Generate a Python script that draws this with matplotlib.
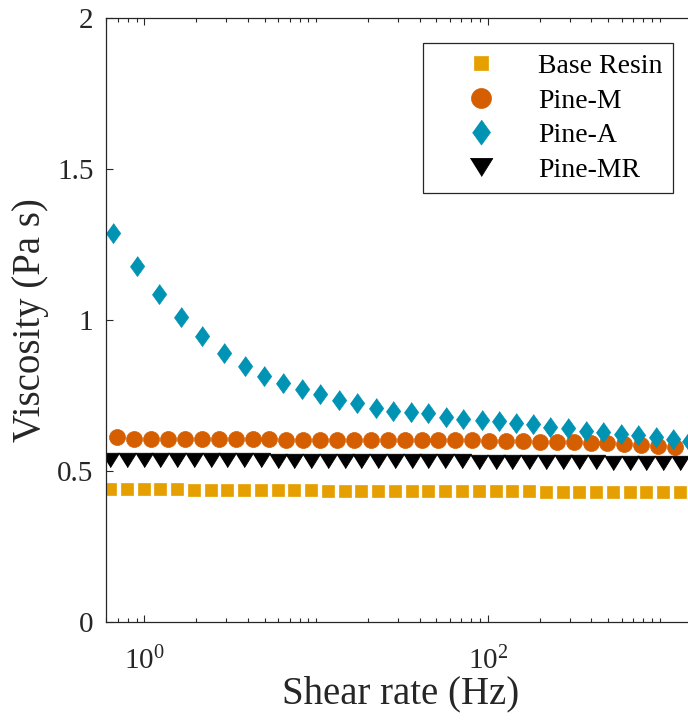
import numpy as np
import matplotlib
matplotlib.use('Agg')
import matplotlib.pyplot as plt
from matplotlib.ticker import FixedLocator, NullFormatter

plt.rcParams['font.family'] = ['Liberation Serif', 'DejaVu Serif']
plt.rcParams['mathtext.fontset'] = 'custom'
plt.rcParams['mathtext.rm'] = 'Liberation Serif'

# shear rate (Hz) and viscosity (Pa s)
rate_base = [0.630, 0.788, 0.987, 1.236, 1.547, 1.937, 2.425, 3.036, 3.801, 4.759,
             5.958, 7.459, 9.339, 11.69, 14.64, 18.33, 22.94, 28.73, 35.96, 45.03,
             56.37, 70.58, 88.37, 110.6, 138.5, 173.4, 217.1, 271.8, 340.3, 426.1,
             533.4, 667.9, 836.2, 1047, 1311]
visc_base = [0.441, 0.440, 0.440, 0.439, 0.439, 0.438, 0.438, 0.437, 0.437, 0.437,
             0.436, 0.436, 0.436, 0.435, 0.435, 0.435, 0.435, 0.434, 0.434, 0.434,
             0.434, 0.433, 0.433, 0.433, 0.433, 0.433, 0.432, 0.432, 0.432, 0.432,
             0.432, 0.431, 0.431, 0.431, 0.430]

rate_m = [0.695, 0.872, 1.093, 1.372, 1.720, 2.158, 2.707, 3.395, 4.258, 5.341,
          6.699, 8.403, 10.54, 13.22, 16.58, 20.80, 26.09, 32.72, 41.05, 51.48,
          64.57, 80.99, 101.6, 127.4, 159.8, 200.4, 251.4, 315.3, 395.5, 496.1,
          622.3, 780.5, 979.0, 1228]
visc_m = [0.614, 0.607, 0.606, 0.606, 0.606, 0.605, 0.605, 0.605, 0.605, 0.605,
          0.604, 0.604, 0.604, 0.604, 0.603, 0.603, 0.603, 0.603, 0.602, 0.602,
          0.602, 0.601, 0.600, 0.599, 0.598, 0.597, 0.596, 0.595, 0.593, 0.592,
          0.590, 0.587, 0.584, 0.580]

rate_a = [0.658, 0.901, 1.219, 1.631, 2.171, 2.904, 3.863, 4.983, 6.43, 8.23,
          10.51, 13.62, 17.34, 22.28, 28.1, 35.6, 44.9, 56.7, 71.8, 91.9,
          115.9, 145.6, 182.1, 229.6, 291.1, 372.1, 469.2, 594.8, 750.3, 951.1,
          1199.5, 1480]
visc_a = [1.289, 1.179, 1.086, 1.011, 0.947, 0.892, 0.848, 0.816, 0.791, 0.771,
          0.754, 0.735, 0.724, 0.710, 0.700, 0.697, 0.691, 0.678, 0.673, 0.669,
          0.664, 0.660, 0.655, 0.647, 0.642, 0.634, 0.629, 0.623, 0.620, 0.614,
          0.605, 0.600]

rate_mr = rate_base
visc_mr = [0.537, 0.537, 0.537, 0.536, 0.536, 0.536, 0.535, 0.535, 0.535, 0.535,
           0.534, 0.534, 0.534, 0.534, 0.534, 0.533, 0.533, 0.533, 0.533, 0.532,
           0.532, 0.532, 0.531, 0.531, 0.531, 0.530, 0.530, 0.530, 0.529, 0.529,
           0.528, 0.528, 0.527, 0.527, 0.526]

labels = ['Base Resin', 'Pine-M', 'Pine-A', 'Pine-MR']
colors = ['#E69F00', '#D55E00', '#0093B3', '#000000']

diamond = [(0, 1), (0.72, 0), (0, -1), (-0.72, 0)]
tri_down = [(-1, 0.8), (1, 0.8), (0, -0.8)]

fig = plt.figure(figsize=(6.88, 7.28), dpi=100)
ax = fig.add_axes([106/688, 106/728, (695-106)/688, 604/728])

ax.plot(rate_base, visc_base, ls='none', marker='s', ms=8.6, mew=0.5,
        color=colors[0], label=labels[0])
ax.plot(rate_m, visc_m, ls='none', marker='o', ms=11.5, mew=0.5,
        color=colors[1], label=labels[1])
ax.plot(rate_a, visc_a, ls='none', marker=diamond, ms=14.4, mew=0.5,
        color=colors[2], label=labels[2])
ax.plot(rate_mr, visc_mr, ls='none', marker=tri_down, ms=13, mew=0.6,
        color=colors[3], label=labels[3])

ax.set_xscale('log')
ax.set_xlim(0.597, 1604)
ax.set_ylim(0, 2)

ax.set_xticks([1, 100])
ax.set_xticklabels([r'$\mathregular{10^{0}}$', r'$\mathregular{10^{2}}$'])
minors = [m * 10.0**e for e in range(-1, 4) for m in range(1, 10)]
minors = [v for v in minors if v not in (1, 100)]
ax.xaxis.set_minor_locator(FixedLocator(minors))
ax.xaxis.set_minor_formatter(NullFormatter())
ax.set_yticks([0, 0.5, 1, 1.5, 2])
ax.set_yticklabels(['0', '0.5', '1', '1.5', '2'])

for s in ax.spines.values():
    s.set_color('#262626')
    s.set_linewidth(0.9)
ax.tick_params(which='both', direction='in', top=True, right=True,
               colors='#262626', labelcolor='#262626', labelsize=21, width=0.8)
ax.tick_params(which='major', length=5)
ax.tick_params(which='minor', length=3)
ax.tick_params(axis='x', pad=18)
ax.tick_params(axis='y', pad=9)

ax.set_xlabel('Shear rate (Hz)', fontsize=28, color='#262626', labelpad=0)
ax.set_ylabel('Viscosity (Pa s)', fontsize=28, color='#262626', labelpad=6)

leg = ax.legend(loc='upper right', bbox_to_anchor=(673/688, 1 - 43/728),
                bbox_transform=fig.transFigure, borderaxespad=0,
                fontsize=20, markerscale=1.25, handlelength=3.45,
                handletextpad=0.32, borderpad=0.38, labelspacing=0.33,
                fancybox=False, framealpha=1, edgecolor='#262626')
leg.get_frame().set_linewidth(0.9)

plt.savefig('out.png', dpi=100)
